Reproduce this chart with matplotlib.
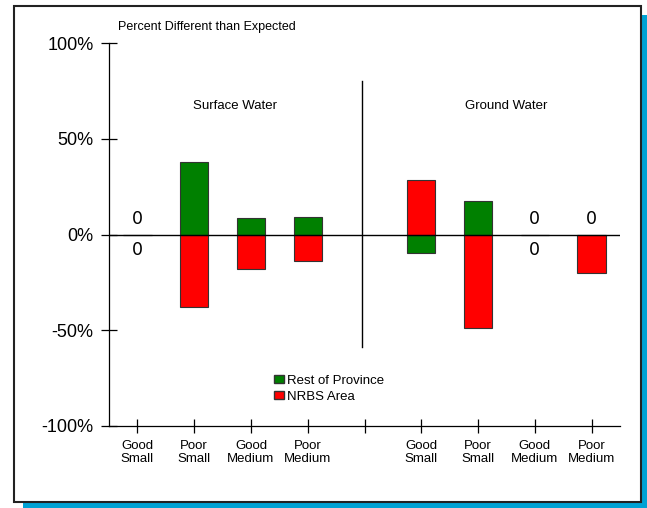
import matplotlib
matplotlib.use("Agg")
import matplotlib.pyplot as plt
from matplotlib.patches import Rectangle, Patch

plt.rcParams['font.family'] = ['Liberation Sans', 'DejaVu Sans']

# data
slots = [1, 2, 3, 4, 6, 7, 8, 9]
tick_labels = ['Good\nSmall', 'Poor\nSmall', 'Good\nMedium', 'Poor\nMedium', '',
               'Good\nSmall', 'Poor\nSmall', 'Good\nMedium', 'Poor\nMedium']
rest_of_province = [0, 38, 8.5, 9, -9.5, 17.5, 0, 0]
nrbs_area = [0, -38, -18, -14, 28.5, -49, 0, -20]
groups = ['Surface Water', 'Ground Water']

green = '#008000'
red = '#ff0000'

fig = plt.figure(figsize=(6.47, 5.08), dpi=100)

# frame with blue shadow
W, H = 647, 508
fig.patches.append(Rectangle((23 / W, -0.05), 1.0, 1 - 15 / H + 0.05,
                             transform=fig.transFigure, facecolor='#00a2d4',
                             edgecolor='none', zorder=0))
fig.patches.append(Rectangle((14 / W, 1 - 502 / H), 627 / W, 496 / H,
                             transform=fig.transFigure, facecolor='white',
                             edgecolor='#222222', linewidth=1.5, zorder=1))

ax = fig.add_axes([109 / W, 1 - 426 / H, 511 / W, 383 / H])
ax.set_facecolor('none')
ax.set_zorder(2)

ax.bar(slots, rest_of_province, width=0.5, color=green, edgecolor='#333333',
       linewidth=0.8, label='Rest of Province', zorder=2)
ax.bar(slots, nrbs_area, width=0.5, color=red, edgecolor='#333333',
       linewidth=0.8, label='NRBS Area', zorder=2)

# zero labels
for x, g, r in zip(slots, rest_of_province, nrbs_area):
    if g == 0:
        ax.text(x, 8, '0', ha='center', va='center', fontsize=12.5,
                family='DejaVu Sans')
    if r == 0:
        ax.text(x, -8, '0', ha='center', va='center', fontsize=12.5,
                family='DejaVu Sans')

ax.axhline(0, color='black', linewidth=1, zorder=3)
ax.plot([4.95, 4.95], [80, -59], color='black', linewidth=1)

ax.text(2.72, 67, groups[0], ha='center', va='center', fontsize=9.5)
ax.text(7.49, 67, groups[1], ha='center', va='center', fontsize=9.5)

ax.set_xlim(0.5, 9.5)
ax.set_ylim(-100, 100)
ax.set_yticks([-100, -50, 0, 50, 100])
ax.set_yticklabels(['-100%', '-50%', '0%', '50%', '100%'], fontsize=13)
ax.set_xticks(range(1, 10))
ax.set_xticklabels(tick_labels, fontsize=9.5, linespacing=1.2)

for s in ['top', 'right']:
    ax.spines[s].set_visible(False)
for s in ['left', 'bottom']:
    ax.spines[s].set_linewidth(0.9)
ax.tick_params(axis='y', direction='inout', length=12, width=0.9, pad=5)
ax.tick_params(axis='x', direction='inout', length=9.5, width=0.9, pad=5)

fig.text(118 / W, 1 - 27 / H, 'Percent Different than Expected',
         ha='left', va='center', fontsize=9, zorder=3)

handles = [Patch(facecolor=green, edgecolor='#333333', label='Rest of Province'),
           Patch(facecolor=red, edgecolor='#333333', label='NRBS Area')]
ax.legend(handles=handles, loc='upper left',
          bbox_to_anchor=(267 / W, 1 - 368 / H), bbox_transform=fig.transFigure,
          frameon=False, fontsize=9.5, handlelength=0.8, handleheight=0.6,
          handletextpad=0.2, labelspacing=0.3, borderpad=0)

fig.savefig('out.png', dpi=100)
